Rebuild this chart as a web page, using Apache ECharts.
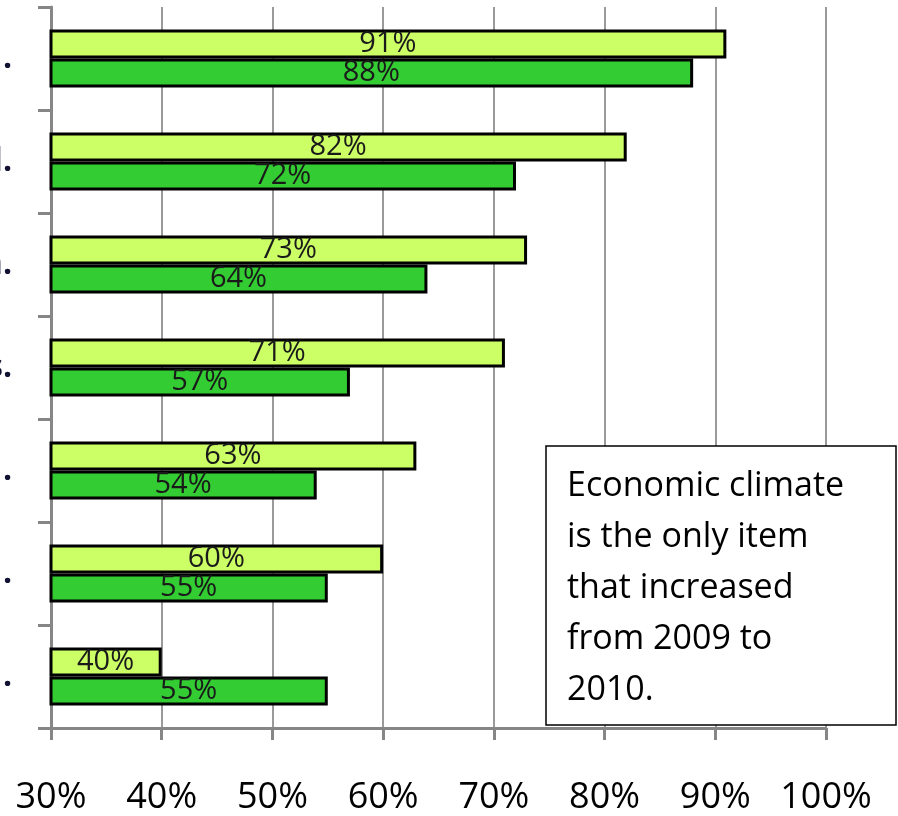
<!DOCTYPE html>
<html>
<head>
<meta charset="utf-8">
<script src="https://cdn.jsdelivr.net/npm/echarts@6/dist/echarts.min.js"></script>
<style>
  html, body { margin: 0; padding: 0; background: #fff; }
  #main { width: 898px; height: 816px; }
</style>
</head>
<body>
<div id="main"></div>
<script>
// category labels are cropped in the source, only their tails are visible
var categories = ['.', 'l.', 'n.', 's.', '.', '.', '.'];
var values2009 = [91, 82, 73, 71, 63, 60, 40];
var values2010 = [88, 72, 64, 57, 54, 55, 55];
var noteLines = ['Economic climate', 'is the only item', 'that increased', 'from 2009 to', '2010.'];

var font = 'Open Sans';
var myChart = echarts.init(document.getElementById('main'));

var barLabel = {
    show: true,
    position: 'inside',
    formatter: '{c}%',
    color: '#1a1a1a',
    fontFamily: font,
    fontSize: 29
};

option = {
    animation: false,
    grid: { left: 51, right: 72, top: 7, bottom: 88, containLabel: false, outerBoundsMode: 'none' },
    xAxis: {
        type: 'value',
        min: 30,
        max: 100,
        interval: 10,
        axisLine: { show: true, lineStyle: { color: '#868686', width: 3 } },
        axisTick: { show: true, length: 12, lineStyle: { color: '#868686', width: 3 } },
        splitLine: { show: true, lineStyle: { color: '#9a9a9a', width: 2 } },
        axisLabel: {
            formatter: '{value}%',
            margin: 52,
            color: '#000',
            fontFamily: font,
            fontSize: 36
        }
    },
    yAxis: {
        type: 'category',
        inverse: true,
        data: categories,
        axisLine: { show: true, lineStyle: { color: '#868686', width: 3 } },
        axisTick: { show: true, length: 13, lineStyle: { color: '#868686', width: 3 } },
        axisLabel: {
            margin: 39,
            color: '#111133',
            fontFamily: font,
            fontWeight: 'bold',
            fontSize: 32
        }
    },
    series: [
        {
            name: '2009',
            type: 'bar',
            barWidth: 29,
            barGap: '0%',
            itemStyle: { color: '#ccff66', borderColor: '#000', borderWidth: 3 },
            label: barLabel,
            data: values2009
        },
        {
            name: '2010',
            type: 'bar',
            barWidth: 29,
            barGap: '0%',
            itemStyle: { color: '#33cc33', borderColor: '#000', borderWidth: 3 },
            label: barLabel,
            data: values2010
        }
    ],
    graphic: [
        {
            type: 'rect',
            shape: { x: 546, y: 446, width: 350, height: 279 },
            style: { fill: '#fff', stroke: '#000', lineWidth: 1.5 },
            z: 100
        },
        {
            type: 'text',
            x: 567,
            y: 461,
            style: {
                text: noteLines.join('\n'),
                fill: '#000',
                font: '34px "' + font + '"',
                lineHeight: 51
            },
            z: 101
        }
    ]
};
myChart.setOption(option);
</script>
</body>
</html>
